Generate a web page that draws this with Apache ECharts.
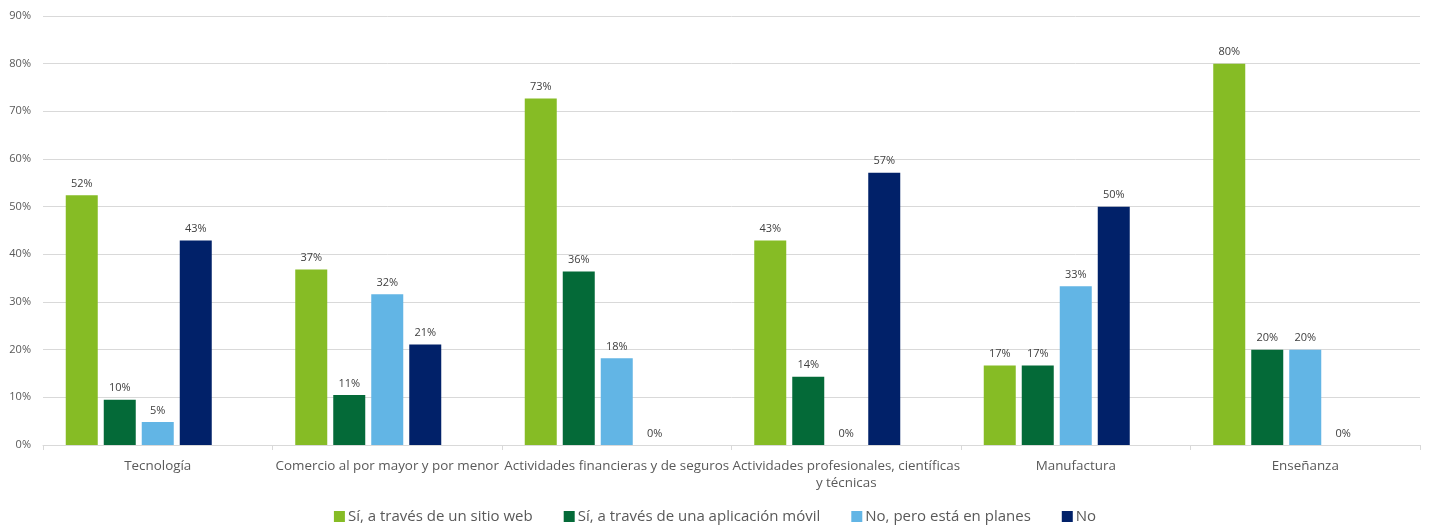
<!DOCTYPE html>
<html>
<head>
<meta charset="utf-8">
<script src="https://cdn.jsdelivr.net/npm/echarts@6/dist/echarts.min.js"></script>
<style>html,body{margin:0;padding:0;background:#fff}#c{width:1430px;height:525px}</style>
</head>
<body>
<div id="c"></div>
<script>
const categories = ['Tecnología', 'Comercio al por mayor y por menor', 'Actividades financieras y de seguros', 'Actividades profesionales, científicas y técnicas', 'Manufactura', 'Enseñanza'];
const seriesNames = ['Sí, a través de un sitio web', 'Sí, a través de una aplicación móvil', 'No, pero está en planes', 'No'];
const webValues = [52.4, 36.8, 72.7, 42.9, 16.7, 80];
const appValues = [9.5, 10.5, 36.4, 14.3, 16.7, 20];
const planValues = [4.8, 31.6, 18.2, 0, 33.3, 20];
const noValues = [42.9, 21.1, 0, 57.1, 50, 0];
const colors = ['#86BC25', '#046A38', '#62B5E5', '#012169'];
const yTicks = [0, 10, 20, 30, 40, 50, 60, 70, 80, 90];

const FONT = '"Open Sans", sans-serif';
function wrapWords(text, maxChars) {
  const words = text.split(' ');
  const lines = [];
  let cur = '';
  words.forEach(w => {
    const next = cur ? cur + ' ' + w : w;
    if (next.length > maxChars && cur) { lines.push(cur); cur = w; }
    else cur = next;
  });
  if (cur) lines.push(cur);
  return lines.join('\n');
}
const allValues = [webValues, appValues, planValues, noValues];
const series = allValues.map((vals, i) => ({
  name: seriesNames[i],
  type: 'bar',
  data: vals,
  barWidth: 32,
  barGap: '18.75%',
  barCategoryGap: '19.8%',
  itemStyle: { color: colors[i] },
  label: {
    show: true, position: 'top', distance: 6,
    fontFamily: FONT, fontSize: 11, color: '#404040',
    formatter: p => Math.round(p.value) + '%'
  }
}));
series.push({ name: '_spacer', type: 'bar', data: categories.map(() => null), barWidth: 32, barGap: '18.75%' });

const chart = echarts.init(document.getElementById('c'), null, { renderer: 'canvas' });
chart.setOption({
  animation: false,
  textStyle: { fontFamily: FONT },
  grid: { left: 43, right: 10, top: 16, bottom: 80, containLabel: false },
  legend: {
    data: seriesNames,
    top: 504, left: 'center',
    itemWidth: 11, itemHeight: 11, itemGap: 31,
    icon: 'rect',
    textStyle: { fontFamily: FONT, fontSize: 15, color: '#595959', padding: [0, 0, 0, -2] }
  },
  xAxis: {
    type: 'category',
    data: categories,
    axisLine: { lineStyle: { color: '#D9D9D9', width: 1 } },
    axisTick: { show: true, length: 5, lineStyle: { color: '#D9D9D9' } },
    axisLabel: { fontFamily: FONT, fontSize: 13.4, color: '#595959', margin: 13, interval: 0, lineHeight: 17,
      formatter: v => wrapWords(v, 38) }
  },
  yAxis: {
    type: 'value', min: yTicks[0], max: yTicks[yTicks.length - 1], interval: 10,
    axisLine: { show: false }, axisTick: { show: false },
    splitLine: { lineStyle: { color: '#D9D9D9', width: 1 } },
    axisLabel: { fontFamily: FONT, fontSize: 11, color: '#595959', margin: 12, formatter: '{value}%' }
  },
  series: series
});
</script>
</body>
</html>
